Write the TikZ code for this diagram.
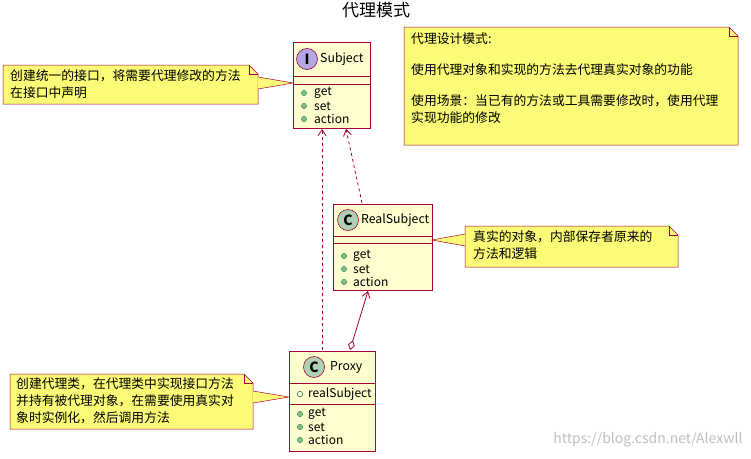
\documentclass[tikz,border=0pt]{standalone}
\usepackage{fontspec}
\setmainfont{Noto Sans CJK SC}
\usetikzlibrary{arrows.meta,calc}
\definecolor{cfill}{HTML}{FEFECE}
\definecolor{cline}{HTML}{A80036}
\definecolor{nfill}{HTML}{FBFB77}
\definecolor{cc}{HTML}{ADD1B2}
\definecolor{ci}{HTML}{B4A7E5}
\definecolor{dot}{HTML}{84BE84}
\definecolor{dotl}{HTML}{038048}
\tikzset{
  box/.style={draw=cline,fill=cfill,line width=0.9pt,inner sep=0pt},
  sep/.style={draw=cline,line width=0.8pt},
  lbl/.style={font=\fontsize{12.3}{14}\selectfont,anchor=west,inner sep=0pt},
  mem/.style={font=\fontsize{12}{14}\selectfont,anchor=west,inner sep=0pt},
  circ/.style={circle,draw=cline,line width=0.6pt,minimum size=21pt,inner sep=0pt,font=\fontsize{14}{14}\selectfont\bfseries},
  notetext/.style={font=\fontsize{12.8}{17}\selectfont,anchor=north west,align=left,inner sep=0pt},
  note/.style={draw=cline,fill=nfill,line width=0.5pt},
  rel/.style={draw=cline,line width=0.8pt},
}
\newcommand{\mdot}[1]{\fill[dot,draw=dotl,line width=0.3pt] #1 circle (2.7pt);}
\newcommand{\notebox}[4]{% x1 y1 x2 y2
  \path[note] (#1,#2) -- (#3-9,#2) -- (#3,#2+9) -- (#3,#4) -- (#1,#4) -- cycle;
  \draw[cline,line width=0.5pt] (#3-9,#2) -- (#3-9,#2+9) -- (#3,#2+9);}
\begin{document}
\begin{tikzpicture}[x=1pt,y=-1pt]
\useasboundingbox[fill=white] (0,0) rectangle (751,458);
\node[font=\fontsize{17}{17}\selectfont] (title) at (376,10) {代理模式};
% Subject
\draw[box] (293,42) rectangle (370,128);
\draw[sep] (293,76) -- (370,76); \draw[sep] (293,84) -- (370,84);
\node[circ,fill=ci] (si) at (307,59) {I};
\node[lbl,font=\fontsize{12.3}{14}\selectfont\itshape] (st) at (320,59) {Subject};
\mdot{(304,93)}\node[mem] (s1) at (314,93) {get};
\mdot{(304,106)}\node[mem] (s2) at (314,106) {set};
\mdot{(304,119)}\node[mem] (s3) at (314,119) {action};
% RealSubject
\draw[box] (333,204) rectangle (432,290);
\draw[sep] (333,236) -- (432,236); \draw[sep] (333,243) -- (432,243);
\node[circ,fill=cc] (rc) at (348,220) {C};
\node[lbl] (rt) at (361,220) {RealSubject};
\mdot{(344,256)}\node[mem] (r1) at (353,256) {get};
\mdot{(344,269)}\node[mem] (r2) at (353,269) {set};
\mdot{(344,282)}\node[mem] (r3) at (353,282) {action};
% Proxy
\draw[box] (289,351) rectangle (375,451);
\draw[sep] (289,383) -- (375,383); \draw[sep] (289,404) -- (375,404);
\node[circ,fill=cc] (pc) at (314,367) {C};
\node[lbl] (pt) at (330,367) {Proxy};
\draw[dotl,line width=0.5pt] (300,394) circle (2.7pt);\node[mem] (p0) at (308,394) {realSubject};
\mdot{(300,414)}\node[mem] (p1) at (308,414) {get};
\mdot{(300,427)}\node[mem] (p2) at (308,427) {set};
\mdot{(300,440)}\node[mem] (p3) at (308,440) {action};
% coordinates
\coordinate (sA) at (322,129); \coordinate (sB) at (346,129);
\coordinate (rTop) at (362,203); \coordinate (rBot) at (368,291);
\coordinate (pA) at (322,350); \coordinate (pB) at (350,350);
\draw[rel,dashed,-{Straight Barb[length=6pt,width=8pt]}] (pA) -- (sA);
\draw[rel,dashed,-{Straight Barb[length=6pt,width=8pt]}] (rTop) -- (sB);
\draw[rel,{Diamond[open,fill=white,length=10pt,width=7pt]}-{Straight Barb[length=6pt,width=8pt]}] (pB) -- (rBot);
% notes
\notebox{3}{65}{258}{104}
\path[note] (258,77) -- (293,83) -- (258,89);
\node[notetext] (n1) at (10,69) {创建统一的接口，将需要代理修改的方法\\在接口中声明};
\notebox{404}{27}{738}{145}
\node[notetext] (n2) at (411,33) {代理设计模式:\\[14pt]使用代理对象和实现的方法去代理真实对象的功能\\[14pt]使用场景：当已有的方法或工具需要修改时，使用代理\\实现功能的修改};
\notebox{465}{226}{678}{267}
\path[note] (465,234) -- (432,240) -- (465,246);
\node[notetext] (n3) at (473,230) {真实的对象，内部保存者原来的\\方法和逻辑};
\notebox{10}{374}{253}{429}
\path[note] (253,391) -- (289,397) -- (253,403);
\node[notetext] (n4) at (16,377) {创建代理类，在代理类中实现接口方法\\并持有被代理对象，在需要使用真实对\\象时实例化，然后调用方法};
\node[font=\fontsize{14}{14}\selectfont,text=gray!50,anchor=east] (wm) at (746,440) {https://blog.csdn.net/Alexwll};
\end{tikzpicture}
\end{document}
